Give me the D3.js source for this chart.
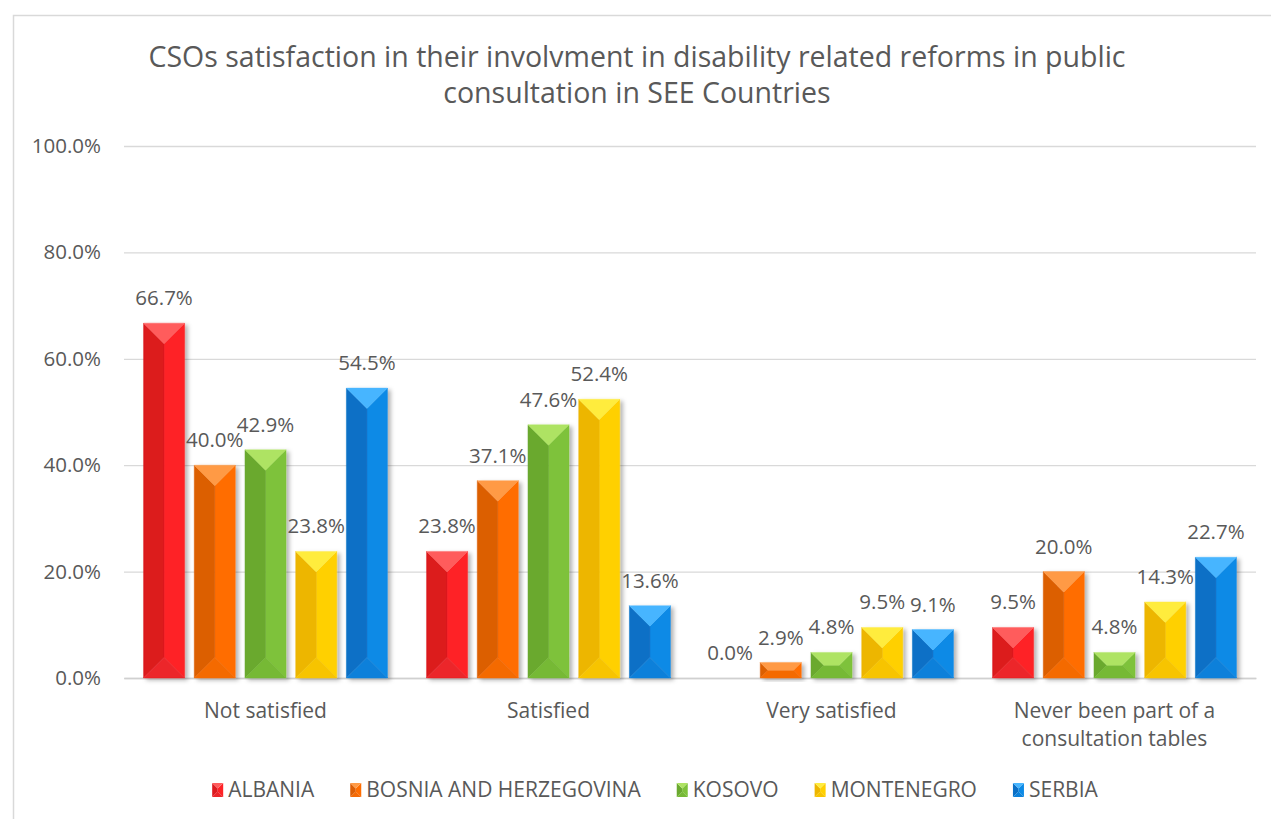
<!DOCTYPE html>
<html>
<head>
<meta charset="utf-8">
<script src="https://cdn.jsdelivr.net/npm/d3@7"></script>
<style>
  html, body { margin: 0; padding: 0; background: #fff; }
  svg { display: block; font-family: "Open Sans", sans-serif; }
</style>
</head>
<body>
<svg id="chart" width="1271" height="819"></svg>
<script>
// Survey answers per category, one array per country (percent)
const categories = ["Not satisfied", "Satisfied", "Very satisfied", "Never been part of a consultation tables"];
const countries = ["ALBANIA", "BOSNIA AND HERZEGOVINA", "KOSOVO", "MONTENEGRO", "SERBIA"];
const albania = [66.7, 23.8, 0.0, 9.5];
const bosnia = [40.0, 37.1, 2.9, 20.0];
const kosovo = [42.9, 47.6, 4.8, 4.8];
const montenegro = [23.8, 52.4, 9.5, 14.3];
const serbia = [54.5, 13.6, 9.1, 22.7];
const yTicks = [0, 20, 40, 60, 80, 100];

const seriesValues = [albania, bosnia, kosovo, montenegro, serbia];

// bevel shades per country: top, left, right (main), bottom
const palette = [
  { top: "#ff5c5c", left: "#dc1a1f", main: "#fe2226", bottom: "#ec2529" },
  { top: "#ff9a45", left: "#dc5e05", main: "#ff6d00", bottom: "#f46a06" },
  { top: "#aee363", left: "#6aa92f", main: "#7ec23a", bottom: "#76b936" },
  { top: "#ffec3e", left: "#edb600", main: "#ffd000", bottom: "#f7c400" },
  { top: "#47b5ff", left: "#0a6fc6", main: "#0c8ae6", bottom: "#0b80da" }
];

const svg = d3.select("#chart");
const textColor = "#595959";

// outer chart frame
svg.append("rect")
  .attr("x", 13.5).attr("y", 15.5)
  .attr("width", 1300).attr("height", 900)
  .attr("fill", "#fff").attr("stroke", "#d9d9d9").attr("stroke-width", 1.5);

const defs = svg.append("defs");
const shadow = defs.append("filter").attr("id", "barShadow")
  .attr("x", "-30%").attr("y", "-10%").attr("width", "170%").attr("height", "130%");
shadow.append("feDropShadow")
  .attr("dx", 3).attr("dy", 2).attr("stdDeviation", 2)
  .attr("flood-color", "#000").attr("flood-opacity", 0.3);

const plot = { left: 124, right: 1256, top: 146, bottom: 678 };

const y = d3.scaleLinear().domain([0, 100]).range([plot.bottom, plot.top]);
const x0 = d3.scaleBand().domain(categories).range([plot.left, plot.right]).padding(0);
const x1 = d3.scaleBand().domain(countries).range([0, x0.bandwidth()])
  .paddingInner(0.19).paddingOuter(0.385);

// title
svg.append("text")
  .attr("text-anchor", "middle")
  .attr("fill", textColor).attr("font-size", 28.5)
  .selectAll("tspan")
  .data(["CSOs satisfaction in their involvment in disability related reforms in public", "consultation in SEE Countries"])
  .join("tspan")
  .attr("x", 637)
  .attr("y", (d, i) => 67 + i * 36)
  .text(d => d);

// gridlines and value axis
const yAxis = d3.axisLeft(y).tickValues(yTicks).tickSize(-(plot.right - plot.left))
  .tickFormat(d => d3.format(".1f")(d) + "%");
const gy = svg.append("g").attr("transform", `translate(${plot.left},0)`).call(yAxis);
gy.select(".domain").remove();
gy.selectAll(".tick line").attr("stroke", "#d9d9d9").attr("stroke-width", 1.3);
gy.selectAll(".tick text").attr("x", -23).attr("fill", textColor)
  .attr("font-size", 20.5).attr("font-family", "Open Sans, sans-serif");

// category axis
const gx = svg.append("g").attr("transform", `translate(0,${plot.bottom})`)
  .call(d3.axisBottom(x0).tickSize(0).tickFormat(""));
gx.select(".domain").attr("stroke", "#d0d0d0").attr("stroke-width", 1.5);

const catWrap = {
  "Never been part of a consultation tables": ["Never been part of a", "consultation tables"]
};
svg.append("g").selectAll("text")
  .data(categories)
  .join("text")
  .attr("text-anchor", "middle")
  .attr("fill", textColor).attr("font-size", 21)
  .each(function (d) {
    const lines = catWrap[d] || [d];
    const cx = x0(d) + x0.bandwidth() / 2;
    d3.select(this).selectAll("tspan").data(lines).join("tspan")
      .attr("x", cx).attr("y", (l, i) => 718 + i * 28).text(l => l);
  });

// bevelled bar faces inside box (x, y, w, h)
function faces(bx, by, w, h) {
  const b = Math.min(w, h) / 2;
  const ix0 = bx + b, ix1 = bx + w - b, iy0 = by + b, iy1 = by + h - b;
  const p = pts => "M" + pts.map(q => q.join(",")).join("L") + "Z";
  return {
    right: p([[bx + w, by], [ix1, iy0], [ix1, iy1], [bx + w, by + h]]),
    left: p([[bx, by], [ix0, iy0], [ix0, iy1], [bx, by + h]]),
    bottom: p([[bx, by + h], [ix0, iy1], [ix1, iy1], [bx + w, by + h]]),
    top: p([[bx, by], [bx + w, by], [ix1, iy0], [ix0, iy0]])
  };
}

const barData = [];
categories.forEach((c, ci) => {
  countries.forEach((s, si) => {
    barData.push({ cat: c, country: s, si, value: seriesValues[si][ci] });
  });
});

const bars = svg.append("g").selectAll("g.bar")
  .data(barData)
  .join("g").attr("class", "bar");

bars.each(function (d) {
  const bx = x0(d.cat) + x1(d.country);
  const w = x1.bandwidth();
  const by = y(d.value);
  const h = y(0) - by;
  if (h <= 0) return;
  const g = d3.select(this).append("g").attr("filter", "url(#barShadow)");
  const f = faces(bx, by, w, h);
  const col = palette[d.si];
  g.append("path").attr("d", f.right).attr("fill", col.main).attr("stroke", col.main).attr("stroke-width", 0.4);
  g.append("path").attr("d", f.left).attr("fill", col.left).attr("stroke", col.left).attr("stroke-width", 0.4);
  g.append("path").attr("d", f.bottom).attr("fill", col.bottom).attr("stroke", col.bottom).attr("stroke-width", 0.4);
  g.append("path").attr("d", f.top).attr("fill", col.top).attr("stroke", col.top).attr("stroke-width", 0.4);
});

// value labels above bars
svg.append("g").selectAll("text")
  .data(barData)
  .join("text")
  .attr("x", d => x0(d.cat) + x1(d.country) + x1.bandwidth() / 2)
  .attr("y", d => y(d.value) - 18)
  .attr("text-anchor", "middle")
  .attr("fill", textColor).attr("font-size", 20.5)
  .text(d => d3.format(".1f")(d.value) + "%");

// legend
const legend = svg.append("g");
const legendItems = legend.selectAll("g").data(countries).join("g");
legendItems.append("text")
  .attr("x", 16).attr("y", 797)
  .attr("fill", textColor).attr("font-size", 21)
  .text(d => d);
let cursor = 0;
const itemGap = 36;
legendItems.each(function (d, i) {
  const g = d3.select(this);
  const tw = g.select("text").node().getComputedTextLength();
  g.attr("transform", `translate(${cursor},0)`);
  const f = faces(0, 783, 11, 14);
  const col = palette[i];
  g.insert("path", "text").attr("d", f.right).attr("fill", col.main);
  g.insert("path", "text").attr("d", f.left).attr("fill", col.left);
  g.insert("path", "text").attr("d", f.bottom).attr("fill", col.bottom);
  g.insert("path", "text").attr("d", f.top).attr("fill", col.top);
  cursor += 16 + tw + itemGap;
});
const legendWidth = cursor - itemGap;
legend.attr("transform", `translate(${655 - legendWidth / 2},0)`);
</script>
</body>
</html>
